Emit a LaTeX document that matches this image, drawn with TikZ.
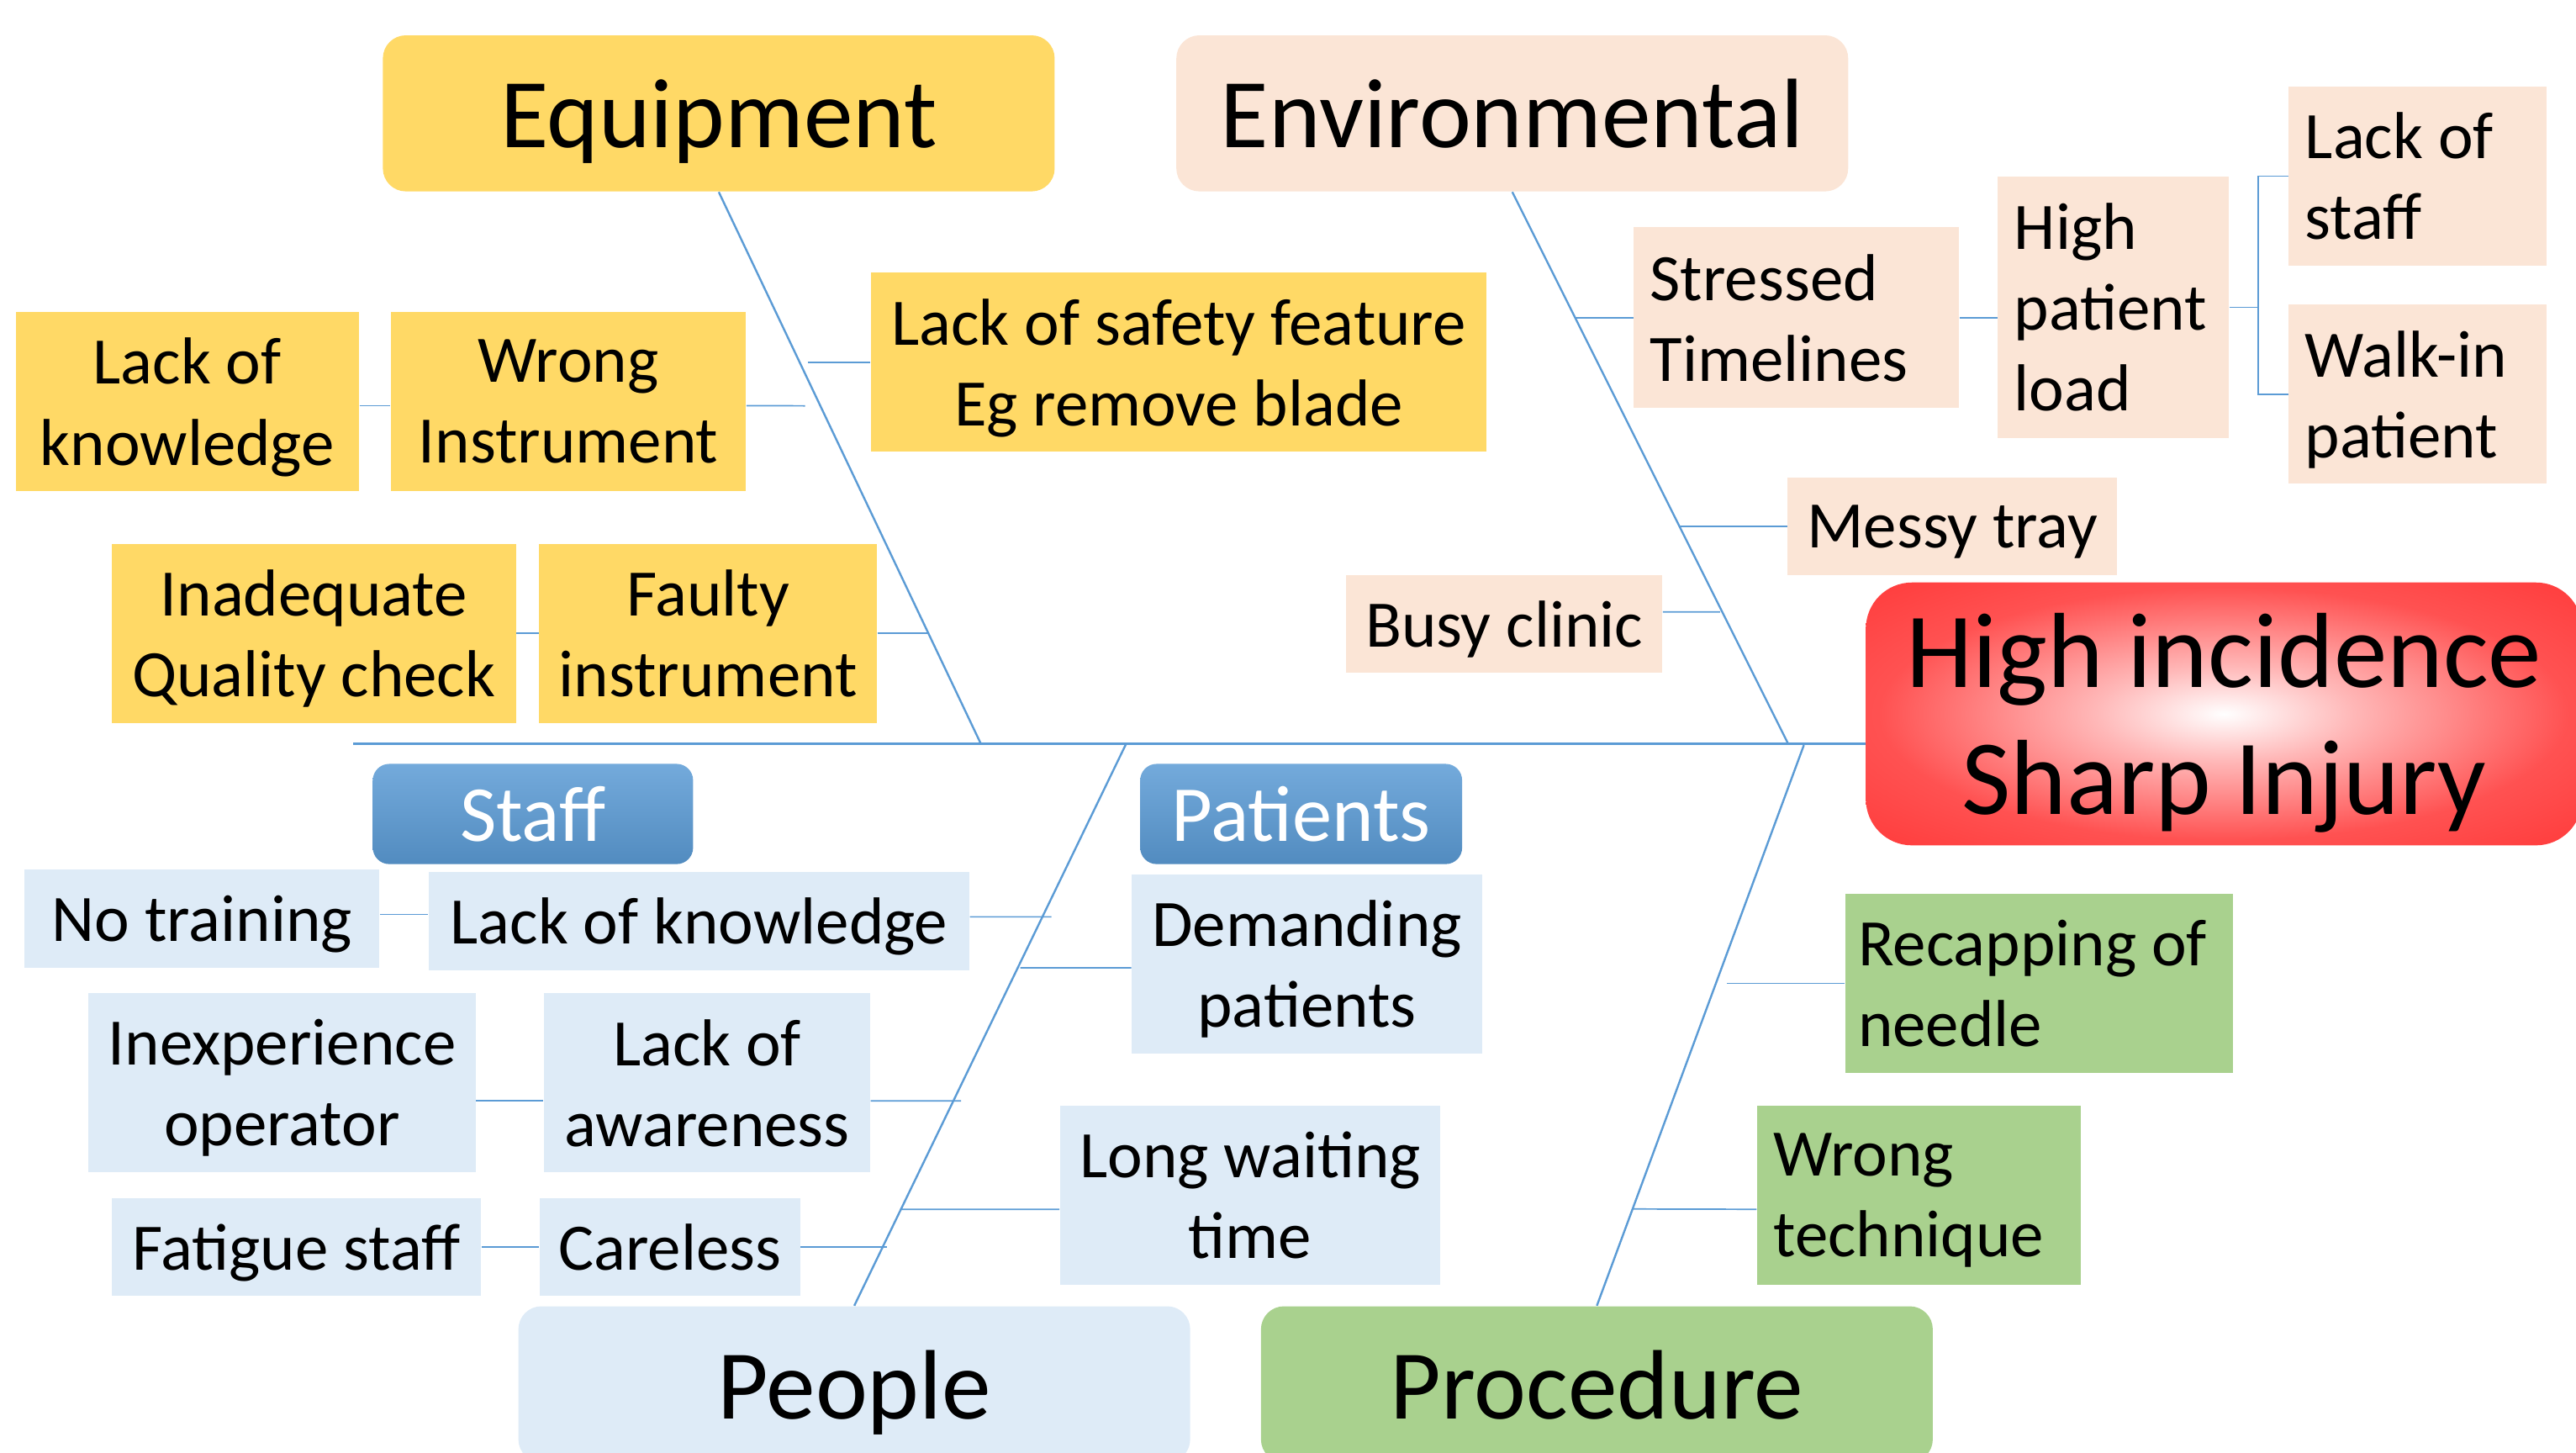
\documentclass[tikz,border=0pt]{standalone}
\usepackage{fontspec}
\setmainfont{Carlito}
\usetikzlibrary{positioning}
\usetikzlibrary{calc}
\definecolor{gold}{HTML}{FFD966}
\definecolor{peach}{HTML}{FBE5D6}
\definecolor{paleblue}{HTML}{DEEBF7}
\definecolor{leaf}{HTML}{A9D18E}
\definecolor{boneblue}{HTML}{5B9BD5}
\definecolor{redbox}{HTML}{FF3333}
\pgfdeclareradialshading{glow}{\pgfpoint{0bp}{0bp}}{%
  color(0bp)=(white); color(9bp)=(redbox!35); color(24bp)=(redbox!85);
  color(40bp)=(redbox); color(50bp)=(redbox)}
\tikzset{
  category/.style={rounded corners=0.28cm, align=center, inner sep=0pt,
    minimum width=8.18cm, minimum height=1.9cm, text depth=0pt,
    font=\fontsize{34.2}{40}\selectfont},
  cause/.style={align=center, inner sep=0pt, minimum height=2.18cm,
    text depth=0pt, font=\fontsize{23}{28}\selectfont},
  % left aligned text sits in a top aligned box: depth = lines below the first
  causeleft/.style={cause, align=flush left, inner xsep=0.2cm, text depth=#1},
  causeleft/.default=28pt,
  group/.style={rounded corners=0.2cm, inner sep=0pt, text=white, text depth=0pt,
    top color=boneblue!85!white, bottom color=boneblue!90!black,
    minimum height=1.22cm, font=\fontsize{27.5}{32}\selectfont},
}

\begin{document}
\begin{tikzpicture}[x=0.02cm, y=-0.02cm,
	bone/.style={draw=boneblue, line width=0.7pt},
	twig/.style={draw=boneblue, line width=0.5pt}]
	
	\useasboundingbox (0,0) rectangle (1568,884);
	\clip (0,0) rectangle (1568,884);
	
	% category boxes and head
	\node[category, fill=gold] (EQ) at (437.5,69) {Equipment};
	\node[category, fill=peach] (EN) at (920.5,69) {Environmental};
	\node[category, fill=paleblue] (PE) at (520,842.5) {People};
	\node[category, fill=leaf] (PR) at (972,842.5) {Procedure};
	\node[rounded corners=0.56cm, shading=glow, align=center, inner sep=0pt,
	  minimum width=8.72cm, minimum height=3.2cm, text depth=0pt,
	  font=\fontsize{37}{44}\selectfont] (HI) at (1353.7,434.5) {High incidence\\Sharp Injury};
	
	% spine and bones
	\coordinate (S0) at (215,452.6);
	\coordinate (B1) at (597,452.6);
	\coordinate (B2) at (1088.4,452.6);
	\coordinate (B3) at (685.5,452.6);
	\coordinate (B4) at (1098,453.5);
	\draw[bone] (S0) -- (S0 -| HI.west);
	\draw[bone] (EQ.south) -- (B1);
	\draw[bone] (EN.south) -- (B2);
	\draw[bone] (PE.north) -- (B3);
	\draw[bone] (PR.north) -- (B4);
	
	% equipment causes
	\node[cause, fill=gold, minimum width=7.5cm] (E1) at (717.5,220.5) {Lack of safety feature\\Eg remove blade};
	\node[cause, fill=gold, minimum width=4.18cm] (E2) at (114,244.4) {Lack of\\knowledge};
	\node[cause, fill=gold, minimum width=4.32cm] (E3) at (346,244.4) {Wrong\\Instrument};
	\node[cause, fill=gold, minimum width=4.92cm] (E4) at (191,385.5) {Inadequate\\Quality check};
	\node[cause, fill=gold, minimum width=4.11cm] (E5) at (431,385.5) {Faulty\\instrument};
	\coordinate (eq1) at (492,220.5);
	\coordinate (eq2) at (490,247);
	\coordinate (eq3) at (565,385.5);
	\draw[twig] (E1.west) -- (eq1);
	\draw[twig] ([yshift=-0.05cm]E2.east) -- ([yshift=-0.05cm]E3.west);
	\draw[twig] ([yshift=-0.05cm]E3.east) -- (eq2);
	\draw[twig] (E4.east) -- (E5.west);
	\draw[twig] (E5.east) -- (eq3);
	
	% environmental causes
	\node[causeleft, fill=peach, text width=3.56cm, minimum height=2.2cm] (N1) at (1093.4,193.4) {Stressed\\Timelines};
	\node[causeleft=56pt, fill=peach, text width=2.41cm, minimum height=3.18cm] (N2) at (1286.3,187) {High\\patient\\load};
	\node[causeleft, fill=peach, text width=2.74cm] (N3) at (1471.6,107.2) {Lack of\\staff};
	\node[causeleft, fill=peach, text width=2.74cm] (N4) at (1471.6,240) {Walk-in\\patient};
	\node[cause, fill=peach, minimum width=4.01cm, minimum height=1.18cm] (N5) at (1188.3,320.4) {Messy tray};
	\node[cause, fill=peach, minimum width=3.85cm, minimum height=1.19cm] (N6) at (915.6,379.9) {Busy clinic};
	\coordinate (en1) at (958.5,193.4);
	\coordinate (en2) at (1374.5,187);
	\coordinate (en3) at (1022.5,320.4);
	\coordinate (en4) at (1047,372.4);
	\draw[twig] (N1.west) -- (en1);
	\draw[twig] (N1.east) -- (N1.east -| N2.west);
	\draw[twig] (N2.east) -- (en2);
	\draw[twig] (N3.west) -| (en2) |- (N4.west);
	\draw[twig] (N5.west) -- (en3);
	\draw[twig] ([yshift=0.15cm]N6.east) -- (en4);
	
	% people causes
	\node[group, minimum width=3.9cm] (ST) at (324.4,495.4) {Staff};
	\node[group, minimum width=3.92cm] (PA) at (792,495.4) {Patients};
	\node[cause, fill=paleblue, minimum width=4.32cm, minimum height=1.2cm] (P1) at (123,559) {No training};
	\node[cause, fill=paleblue, minimum width=6.58cm, minimum height=1.2cm] (P2) at (425.5,560.5) {Lack of knowledge};
	\node[cause, fill=paleblue, minimum width=4.71cm] (P3) at (171.7,659) {Inexperience\\operator};
	\node[cause, fill=paleblue, minimum width=3.97cm] (P4) at (430.4,659) {Lack of\\awareness};
	\node[cause, fill=paleblue, minimum width=4.5cm, minimum height=1.19cm] (P5) at (180.4,759) {Fatigue staff};
	\node[cause, fill=paleblue, minimum width=3.17cm, minimum height=1.19cm] (P6) at (407.8,759) {Careless};
	\node[cause, fill=paleblue, minimum width=4.26cm] (P7) at (795.5,586.5) {Demanding\\patients};
	\node[cause, fill=paleblue, minimum width=4.63cm] (P8) at (761,727.5) {Long waiting\\time};
	\coordinate (pe1) at (640,558);
	\coordinate (pe2) at (585,670);
	\coordinate (pe3) at (540,759);
	\coordinate (pe4) at (621,589);
	\coordinate (pe5) at (548,736);
	\draw[twig] ([yshift=0.05cm]P1.east) -- ([yshift=0.05cm]P1.east -| P2.west);
	\draw[twig] ([yshift=0.05cm]P2.east) -- (pe1);
	\draw[twig] ([yshift=-0.22cm]P3.east) -- ([yshift=-0.22cm]P4.west);
	\draw[twig] ([yshift=-0.22cm]P4.east) -- (pe2);
	\draw[twig] (P5.east) -- (P6.west);
	\draw[twig] (P6.east) -- (pe3);
	\draw[twig] ([yshift=-0.05cm]P7.west) -- (pe4);
	\draw[twig] ([yshift=-0.17cm]P8.west) -- (pe5);
	
	% procedure causes
	\node[causeleft, fill=leaf, text width=4.4cm, inner xsep=0.16cm] (R1) at (1241,598.5) {Recapping of\\needle};
	\node[causeleft, fill=leaf, text width=3.54cm] (R2) at (1168,727.5) {Wrong\\technique};
	\coordinate (pr1) at (1051,598.5);
	\coordinate (pr2) at (994,735.8);
	\draw[twig] (R1.west) -- (pr1);
	\draw[twig] ([yshift=-0.17cm]R2.west) -- (pr2);
	\end{tikzpicture}
\end{document}
